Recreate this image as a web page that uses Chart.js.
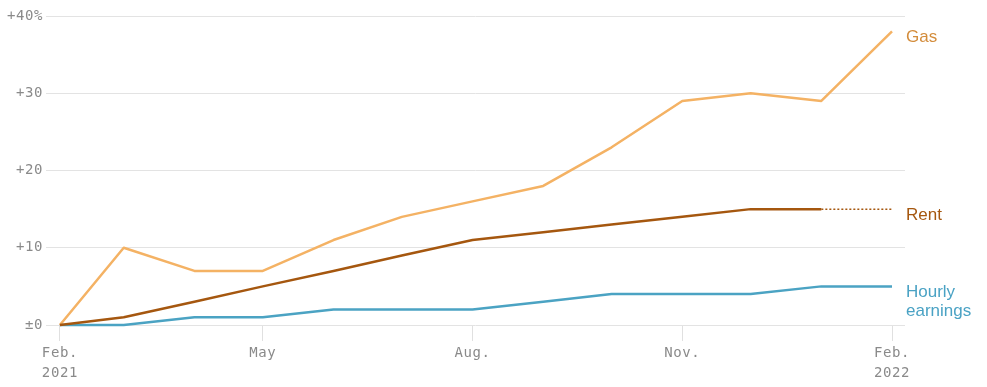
<!DOCTYPE html>
<html>
<head>
<meta charset="utf-8">
<script src="https://cdn.jsdelivr.net/npm/chart.js@4"></script>
<style>
  html, body { margin: 0; padding: 0; background: #fff; }
  #wrap { width: 987px; height: 387px; }
</style>
</head>
<body>
<div id="wrap"><canvas id="chart"></canvas></div>
<script>
// Monthly readings, Feb. 2021 - Feb. 2022 (% change since Feb. 2021)
const months = ['2021-02-01', '2021-03-01', '2021-04-01', '2021-05-01', '2021-06-01', '2021-07-01', '2021-08-01',
                '2021-09-01', '2021-10-01', '2021-11-01', '2021-12-01', '2022-01-01', '2022-02-01'];
const gasValues    = [0, 10, 7, 7, 11, 14, 16, 18, 23, 29, 30, 29, 38];
const rentValues   = [0, 1, 3, 5, 7, 9, 11, 12, 13, 14, 15, 15, 15];
const hourlyValues = [0, 0, 1, 1, 2, 2, 2, 3, 4, 4, 4, 5, 5];

const tickMonths = ['2021-02-01', '2021-05-01', '2021-08-01', '2021-11-01', '2022-02-01'];
const tickLabels = [['Feb.', '2021'], ['May'], ['Aug.'], ['Nov.'], ['Feb.', '2022']];
const yTicks = [0, 10, 20, 30, 40];

// days since the first month, so the x axis spacing follows the calendar
const start = Date.parse(months[0]);
const dayOf = d => (Date.parse(d) - start) / 86400000;
const toPoints = vals => vals.map((v, i) => ({ x: dayOf(months[i]), y: v }));
const tickDays = tickMonths.map(dayOf);

const seriesLabels = [
    { name: 'Rent', lines: ['Rent'], color: '#a5570f' },
    { name: 'Gas', lines: ['Gas'], color: '#d38c3b' },
    { name: 'Hourly earnings', lines: ['Hourly', 'earnings'], color: '#4aa2c4' }
];

// the axis font is spaced out a little
const spacing = {
    id: 'spacing',
    beforeLayout(chart) { chart.ctx.letterSpacing = '0.6px'; },
    beforeDraw(chart) { chart.ctx.letterSpacing = '0.6px'; }
};

// labels at the end of each line
const endLabels = {
    id: 'endLabels',
    afterDatasetsDraw(chart) {
        const ctx = chart.ctx;
        ctx.save();
        ctx.letterSpacing = '0px';
        ctx.font = '17px "Liberation Sans", Arial, sans-serif';
        ctx.textBaseline = 'middle';
        ctx.textAlign = 'left';
        chart.data.datasets.forEach((ds, i) => {
            const meta = chart.getDatasetMeta(i);
            const last = meta.data[meta.data.length - 1];
            const info = seriesLabels.find(s => s.name === ds.label);
            ctx.fillStyle = info.color;
            info.lines.forEach((line, j) => {
                ctx.fillText(line, chart.chartArea.right + 1, last.y + 6 + j * 19);
            });
        });
        ctx.restore();
    }
};

new Chart(document.getElementById('chart'), {
    type: 'line',
    data: {
        datasets: [
            {
                label: 'Rent',
                data: toPoints(rentValues),
                borderColor: '#a5570f',
                borderWidth: 2.5,
                segment: {
                    borderDash: c => c.p1DataIndex === months.length - 1 ? [2, 2] : undefined,
                    borderWidth: c => c.p1DataIndex === months.length - 1 ? 1.5 : 2.5
                }
            },
            {
                label: 'Gas',
                data: toPoints(gasValues),
                borderColor: '#f4b264',
                borderWidth: 2.5
            },
            {
                label: 'Hourly earnings',
                data: toPoints(hourlyValues),
                borderColor: '#4ba3c3',
                borderWidth: 2.5
            }
        ]
    },
    options: {
        responsive: true,
        maintainAspectRatio: false,
        animation: false,
        clip: false,
        elements: {
            point: { radius: 0, hoverRadius: 0 },
            line: { tension: 0, borderJoinStyle: 'round', borderCapStyle: 'butt' }
        },
        layout: { padding: { top: 16, right: 82, left: 0, bottom: 0 } },
        plugins: {
            legend: { display: false },
            tooltip: { enabled: false }
        },
        scales: {
            x: {
                type: 'linear',
                min: -6.1,
                max: 370.7,
                afterBuildTicks: scale => { scale.ticks = tickDays.map(v => ({ value: v })); },
                afterFit: scale => { scale.height = 62; },
                border: { display: false },
                grid: {
                    drawOnChartArea: false,
                    drawTicks: true,
                    tickLength: 16,
                    color: '#e0e0e0',
                    lineWidth: 1
                },
                ticks: {
                    autoSkip: false,
                    maxRotation: 0,
                    padding: 3,
                    color: '#8a8a8a',
                    font: { family: '"DejaVu Sans Mono", monospace', size: 14, lineHeight: 1.38 },
                    callback: v => tickLabels[tickDays.indexOf(v)]
                }
            },
            y: {
                min: 0,
                max: 40,
                afterBuildTicks: scale => { scale.ticks = yTicks.map(v => ({ value: v })); },
                afterFit: scale => { scale.width = 46; },
                border: { display: false },
                grid: {
                    drawTicks: false,
                    color: '#e3e3e3',
                    lineWidth: 1
                },
                ticks: {
                    padding: 3,
                    color: '#8a8a8a',
                    font: { family: '"DejaVu Sans Mono", monospace', size: 14 },
                    callback: v => v === 40 ? '+40%' : v === 0 ? '±0' : '+' + v
                }
            }
        }
    },
    plugins: [spacing, endLabels]
});
</script>
</body>
</html>
